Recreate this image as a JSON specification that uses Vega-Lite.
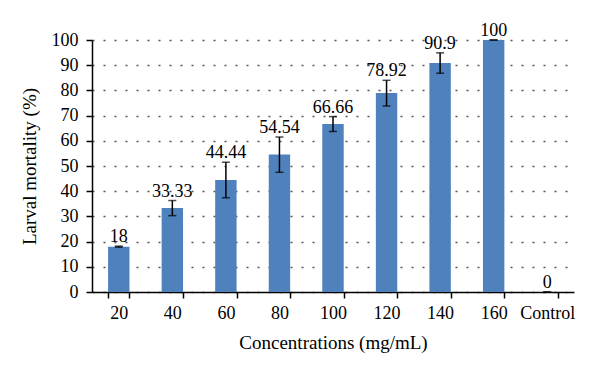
{
  "$schema": "https://vega.github.io/schema/vega-lite/v6.json",
  "width": 482,
  "height": 252,
  "autosize": {"type": "none"},
  "padding": {"left": 92, "top": 40, "right": 26, "bottom": 83},
  "background": "white",
  "config": {
    "font": "Liberation Serif",
    "view": {"stroke": null},
    "axis": {"labelFont": "Liberation Serif", "titleFont": "Liberation Serif", "labelColor": "black", "titleColor": "black", "labelFontSize": 18, "titleFontSize": 19, "titleFontWeight": "normal", "domainColor": "black", "tickColor": "black", "domainWidth": 1.5, "tickWidth": 1.5, "labelOverlap": false},
    "axisY": {"tickCount": 11, "tickSize": 6, "labelPadding": 8, "titlePadding": 12, "grid": true, "gridColor": "#555555", "gridDash": [2, 9], "gridWidth": 1.5}
  },
  "data": {
    "values": [
      {"conc": "20", "mortality": 18, "low": 17.8, "high": 18.2},
      {"conc": "40", "mortality": 33.33, "low": 30.3, "high": 36.3},
      {"conc": "60", "mortality": 44.44, "low": 37.4, "high": 51.5},
      {"conc": "80", "mortality": 54.54, "low": 47.5, "high": 61.5},
      {"conc": "100", "mortality": 66.66, "low": 63.7, "high": 69.6},
      {"conc": "120", "mortality": 78.92, "low": 73.8, "high": 84.0},
      {"conc": "140", "mortality": 90.9, "low": 86.8, "high": 94.9},
      {"conc": "160", "mortality": 100, "low": 100, "high": 100},
      {"conc": "Control", "mortality": 0, "low": 0, "high": 0}
    ]
  },
  "encoding": {
    "x": {
      "field": "conc", "type": "nominal", "sort": null,
      "scale": {"paddingInner": 0.6, "paddingOuter": 0.3},
      "axis": {"title": "Concentrations (mg/mL)", "labelAngle": 0, "tickBand": "extent", "tickSize": 6, "labelPadding": 6, "titlePadding": 11, "grid": false}
    }
  },
  "layer": [
    {
      "mark": {"type": "bar", "color": "#4F81BD"},
      "encoding": {
        "y": {
          "field": "mortality", "type": "quantitative",
          "scale": {"domain": [0, 100], "nice": false},
          "axis": {"title": "Larval mortality (%)", "values": [0,10,20,30,40,50,60,70,80,90,100]}
        }
      }
    },
    {
      "mark": {"type": "rule", "color": "black", "strokeWidth": 1.5},
      "encoding": {
        "y": {"field": "low", "type": "quantitative", "axis": {"title": "Larval mortality (%)", "values": [0,10,20,30,40,50,60,70,80,90,100]}},
        "y2": {"field": "high"}
      }
    },
    {
      "mark": {"type": "tick", "color": "black", "thickness": 1.5, "size": 8, "orient": "horizontal"},
      "encoding": {"y": {"field": "low", "type": "quantitative", "axis": {"title": "Larval mortality (%)", "values": [0,10,20,30,40,50,60,70,80,90,100]}}}
    },
    {
      "mark": {"type": "tick", "color": "black", "thickness": 1.5, "size": 8, "orient": "horizontal"},
      "encoding": {"y": {"field": "high", "type": "quantitative", "axis": {"title": "Larval mortality (%)", "values": [0,10,20,30,40,50,60,70,80,90,100]}}}
    },
    {
      "mark": {"type": "text", "font": "Liberation Serif", "fontSize": 18, "color": "black", "baseline": "alphabetic", "dy": -4},
      "encoding": {
        "y": {"field": "high", "type": "quantitative", "axis": {"title": "Larval mortality (%)", "values": [0,10,20,30,40,50,60,70,80,90,100]}},
        "text": {"field": "mortality", "type": "nominal"}
      }
    }
  ]
}
